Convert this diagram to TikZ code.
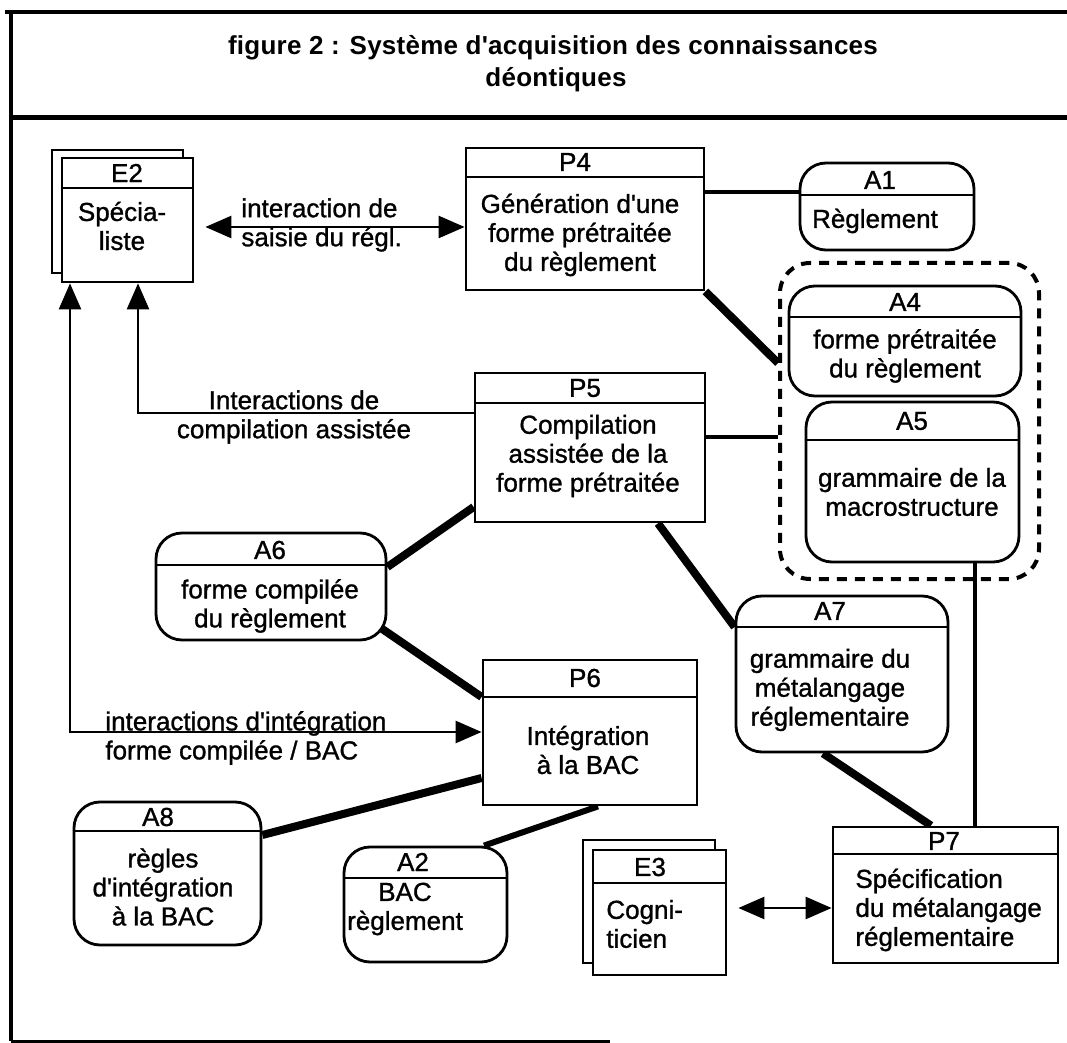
\documentclass[tikz,border=0pt]{standalone}
\usepackage{fontspec}
\setmainfont{Liberation Sans}
\newfontfamily\bodyf[FakeBold=1.1]{Liberation Sans}
\newfontfamily\titlef[LetterSpace=1]{Liberation Sans}
\usetikzlibrary{arrows.meta,fit,calc,backgrounds}
\begin{document}
\begin{tikzpicture}[x=0.5pt,y=-0.5pt,
  box/.style={draw, line width=1.4pt, inner sep=0pt, fill=white},
  abox/.style={box, rounded corners=13pt},
  hdr/.style={line width=1.3pt},
  txt/.style={font=\bodyf\fontsize{13}{14.5}\selectfont, align=center, inner sep=0pt},
  ttl/.style={font=\titlef\bfseries\fontsize{13}{16}\selectfont, inner sep=0pt},
  thc/.style={line width=4pt},
  medc/.style={line width=2.2pt},
  arr/.style={line width=1.3pt, -{Triangle[length=13pt,width=11pt]}},
  darr/.style={line width=1.3pt, {Triangle[length=13pt,width=11pt]}-{Triangle[length=13pt,width=11pt]}},
  grp/.style={draw, dash pattern=on 5pt off 4pt, line width=2pt, rounded corners=15pt, inner sep=0pt},
  frame/.style={line width=2pt}
]
\useasboundingbox (0,0) rectangle (1067,1043);
% frame
\draw[frame] (5,12) -- (1067,12);
\draw[line width=2.5pt] (9,118) -- (1067,118);
\draw[frame] (11,12) -- (11,1041);
\draw[line width=1.5pt] (11,1041) -- (610,1041);
% title
\node[ttl] (title1) at (553,48) {figure 2 : Système d'acquisition des connaissances};
\node[ttl] (title2) at (556,80) {déontiques};

% E2
\node[box, fit={(52,150)(183,273)}] (E2b) {};
\node[box, fit={(62,158)(193,282)}] (E2) {};
\draw[hdr] (E2.west |- 0,188) -- (E2.east |- 0,188);
\node[txt] (E2id) at (127,173) {E2};
\node[txt] (E2tx) at (122,226) {Spécia-\\liste};

% P4
\node[box, fit={(466,148)(704,290)}] (P4) {};
\draw[hdr] (P4.west |- 0,177) -- (P4.east |- 0,177);
\node[txt] (P4id) at (575,162) {P4};
\node[txt] (P4tx) at (580,235) {Génération d'une\\forme prétraitée\\du règlement};

% A1
\node[abox, fit={(800,163)(974,250)}] (A1) {};
\draw[hdr] (A1.west |- 0,195) -- (A1.east |- 0,195);
\node[txt] (A1id) at (880,180) {A1};
\node[txt] (A1tx) at (875,221) {Règlement};

% group
\node[grp, fit={(780,263)(1039,579)}] (G) {};

% A4
\node[abox, fit={(789,286)(1021,396)}] (A4) {};
\draw[hdr] (A4.west |- 0,317) -- (A4.east |- 0,317);
\node[txt] (A4id) at (905,302) {A4};
\node[txt] (A4tx) at (905,356) {forme prétraitée\\du règlement};

% A5
\node[abox, fit={(806,402)(1019,562)}] (A5) {};
\draw[hdr] (A5.west |- 0,440) -- (A5.east |- 0,440);
\node[txt] (A5id) at (912,421) {A5};
\node[txt] (A5tx) at (912,492) {grammaire de la\\macrostructure};

% P5
\node[box, fit={(475,373)(705,522)}] (P5) {};
\draw[hdr] (P5.west |- 0,403) -- (P5.east |- 0,403);
\node[txt] (P5id) at (585,388) {P5};
\node[txt] (P5tx) at (588,456) {Compilation\\assistée de la\\forme prétraitée};

% A6
\node[abox, fit={(156,533)(386,640)}] (A6) {};
\draw[hdr] (A6.west |- 0,565) -- (A6.east |- 0,565);
\node[txt] (A6id) at (270,550) {A6};
\node[txt] (A6tx) at (270,606) {forme compilée\\du règlement};

% P6
\node[box, fit={(483,660)(697,805)}] (P6) {};
\draw[hdr] (P6.west |- 0,697) -- (P6.east |- 0,697);
\node[txt] (P6id) at (585,678) {P6};
\node[txt] (P6tx) at (588,750) {Intégration\\à la BAC};

% A7
\node[abox, fit={(736,596)(948,752)}] (A7) {};
\draw[hdr] (A7.west |- 0,627) -- (A7.east |- 0,627);
\node[txt] (A7id) at (830,611) {A7};
\node[txt] (A7tx) at (830,690) {grammaire du\\métalangage\\réglementaire};

% A8
\node[abox, fit={(74,802)(261,945)}] (A8) {};
\draw[hdr] (A8.west |- 0,831) -- (A8.east |- 0,831);
\node[txt] (A8id) at (158,817) {A8};
\node[txt] (A8tx) at (163,887) {règles\\d'intégration\\à la BAC};

% A2
\node[abox, fit={(344,847)(507,962)}] (A2) {};
\draw[hdr] (A2.west |- 0,878) -- (A2.east |- 0,878);
\node[txt] (A2id) at (413,862) {A2};
\node[txt] (A2tx) at (405,909) {BAC\\règlement};

% E3
\node[box, fit={(583,840)(715,963)}] (E3b) {};
\node[box, fit={(593,850)(726,975)}] (E3) {};
\draw[hdr] (E3.west |- 0,883) -- (E3.east |- 0,883);
\node[txt] (E3id) at (650,867) {E3};
\node[txt, align=left, anchor=west] (E3tx) at (606,924) {Cogni-\\ticien};

% P7
\node[box, fit={(833,827)(1058,963)}] (P7) {};
\draw[hdr] (P7.west |- 0,854) -- (P7.east |- 0,854);
\node[txt] (P7id) at (944,841) {P7};
\node[txt, align=left, anchor=west] (P7tx) at (855,910) {Spécification\\du métalangage\\réglementaire};

% labels
\node[txt, align=left, anchor=west] (L1) at (241,225) {interaction de\\saisie du régl.};
\node[txt] (L2) at (294,417) {Interactions de\\compilation assistée};
\node[txt, align=left, anchor=west] (L3) at (105,738) {interactions d'intégration\\forme compilée / BAC};

% connectors
\begin{scope}[on background layer]
\draw[darr] ($(E2.east |- 0,227)+(11,0)$) -- (P4.west |- 0,227);
\draw[arr] (P5.west |- 0,413) -| (E2.south -| 138,0);
\draw[darr] (E2.south -| 70,0) |- (P6.west |- 0,732);
\draw[medc] (P4.east |- 0,192) -- (A1.west |- 0,192);
\draw[thc] (P4.south east) -- (G.west |- 0,363);
\draw[medc] (P5.east |- 0,437) -- (G.west |- 0,437);
\draw[thc] (P5.west |- 0,507) -- (A6.east |- 0,567);
\draw[thc] ($(A6.south east)+(-6,-13)$) -- (P6.west |- 0,697);
\draw[thc] (P5.south -| 658,0) -- (A7.west |- 0,627);
\draw[thc] (A7.south -| 823,0) -- (P7.north -| 931,0);
\draw[medc] (A5.south -| 975,0) -- (P7.north -| 975,0);
\draw[thc] (A8.east |- 0,835) -- (P6.west |- 0,778);
\draw[line width=3pt] (A2.north -| 484,0) -- (P6.south -| 598,0);
\draw[darr] ($(E3.east |- 0,908)+(11,0)$) -- (P7.west |- 0,908);
\end{scope}
\end{tikzpicture}
\end{document}
